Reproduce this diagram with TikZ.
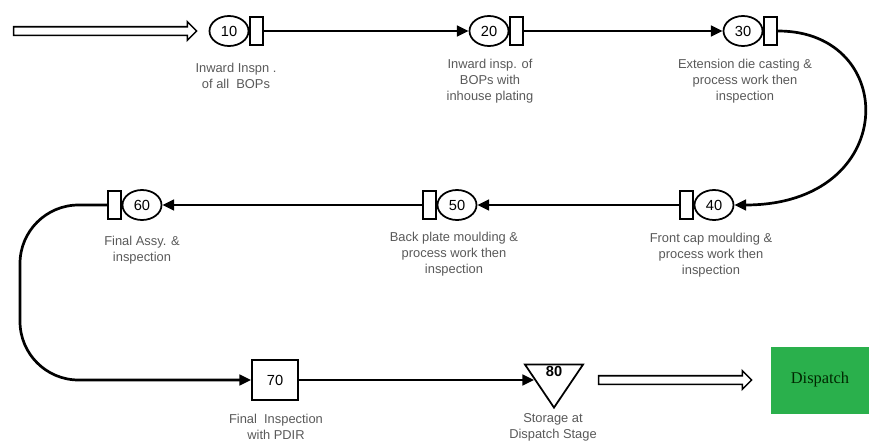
\documentclass[tikz,border=0pt]{standalone}
\usepackage{fontspec}
\setmainfont{Liberation Sans}
\newfontfamily\serifdisp{Liberation Serif}
\usepackage{tikz}
\usetikzlibrary{positioning}
\usetikzlibrary{arrows.meta}
\usetikzlibrary{shapes.geometric}
\usetikzlibrary{shapes.arrows}
\definecolor{dispgreen}{RGB}{42,176,76}
\tikzset{
    opn/.style = {ellipse, draw, line width=1.5pt, minimum width=39*0.03cm, minimum height=30*0.03cm, inner sep=0pt, font=\fontsize{12.5}{12.5}\selectfont},
    chk/.style = {rectangle, draw, line width=1.5pt, minimum width=13*0.03cm, minimum height=28*0.03cm, inner sep=0pt},
    lbl/.style = {align=center, text=black!65, font=\fontsize{11}{13.5}\selectfont, inner sep=0pt},
    flow/.style = {line width=2.3pt, -{Triangle[length=10pt,width=9pt]}},
    fatarrow/.style = {single arrow, draw, line width=1.3pt, fill=white, inner xsep=0pt, inner ysep=3.5*0.03cm, single arrow head extend=5*0.03cm, single arrow head indent=0pt}
}

\begin{document}
\begin{tikzpicture}[x=0.03cm, y=-0.03cm]
  \useasboundingbox (0,0) rectangle (869,444);
  % first row
  \node [fatarrow, minimum height=183*0.03cm] (in) at (103,31) {};
  \node [opn] (o10) at (229,31) {10};
  \node [chk, right=0pt of o10] (r10) {};
  \node [opn] (o20) at (489,31) {20};
  \node [chk, right=0pt of o20] (r20) {};
  \node [opn] (o30) at (743,31) {30};
  \node [chk, right=0pt of o30] (r30) {};
  \node [lbl] (t10) at (236,76) {Inward Inspn .\\of all\ \ BOPs};
  \node [lbl] (t20) at (490,81) {Inward insp. of\\BOPs with\\inhouse plating};
  \node [lbl] (t30) at (745,81) {Extension die casting \&\\process work then\\inspection};
  % second row
  \node [opn] (o40) at (714,205) {40};
  \node [chk, left=0pt of o40] (r40) {};
  \node [opn] (o50) at (457,205) {50};
  \node [chk, left=0pt of o50] (r50) {};
  \node [opn] (o60) at (142,205) {60};
  \node [chk, left=0pt of o60] (r60) {};
  \node [lbl] (t40) at (711,255) {Front cap moulding \&\\process work then\\inspection};
  \node [lbl] (t50) at (454,254) {Back plate moulding \&\\process work then\\inspection};
  \node [lbl] (t60) at (142,250) {Final Assy. \&\\inspection};
  % third row
  \node [rectangle, draw, line width=1.5pt, minimum width=46*0.03cm, minimum height=40*0.03cm, font=\fontsize{12.5}{12.5}\selectfont] (s70) at (275,380) {70};
  \node [isosceles triangle, isosceles triangle stretches, shape border rotate=-90, draw, line width=1.5pt, minimum width=58*0.03cm, minimum height=43*0.03cm, inner sep=0pt] (s80) at (554,380) {};
  \node [font=\fontsize{12.5}{12.5}\selectfont\bfseries] (n80) at (554,371) {80};
  \node [lbl] (t70) at (276,427) {Final\ \ Inspection\\with PDIR};
  \node [lbl] (t80) at (553,427) {Storage at\\Dispatch Stage};
  \node [fatarrow, minimum height=153*0.03cm] (out) at (673,380) {};
  \node [rectangle, fill=dispgreen, minimum width=99*0.03cm, minimum height=67*0.03cm, font=\serifdisp\fontsize{14}{14}\selectfont, text=black!85!green] (disp) at (820,380) {Dispatch};
  \coordinate (bend) at (20,380);
  % connectors
  \draw [flow] (r10) -- (o20);
  \draw [flow] (r20) -- (o30);
  \draw [flow] (r30.east) .. controls (900,31) and (900,205) .. (o40.east);
  \draw [flow] (r40) -- (o50);
  \draw [flow] (r50) -- (o60);
  \draw [flow, rounded corners=50pt] (r60.west) -| (bend) -- (s70.west);
  \draw [flow] (s70) -- (s80);
\end{tikzpicture}
\end{document}
